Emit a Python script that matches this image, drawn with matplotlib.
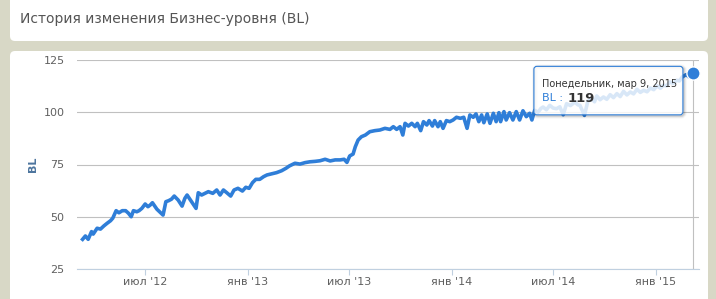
import matplotlib
matplotlib.use('Agg')
import matplotlib.pyplot as plt
import matplotlib.dates as mdates
from matplotlib.patches import FancyBboxPatch
from datetime import datetime

# ---------------- data ----------------
dates = [
    '2012-03-11', '2012-03-16', '2012-03-21', '2012-03-27', '2012-03-30', '2012-04-06', '2012-04-12',
    '2012-04-18', '2012-04-24', '2012-04-30', '2012-05-04', '2012-05-10', '2012-05-15', '2012-05-21',
    '2012-05-27', '2012-06-01', '2012-06-06', '2012-06-10', '2012-06-16', '2012-06-20', '2012-06-25',
    '2012-07-01', '2012-07-06', '2012-07-10', '2012-07-14', '2012-07-22', '2012-08-02', '2012-08-07',
    '2012-08-12', '2012-08-17', '2012-08-22', '2012-08-29', '2012-09-05', '2012-09-10', '2012-09-14',
    '2012-09-22', '2012-09-30', '2012-10-04', '2012-10-10', '2012-10-16', '2012-10-22', '2012-10-30',
    '2012-11-06', '2012-11-12', '2012-11-18', '2012-11-24', '2012-12-01', '2012-12-07', '2012-12-14',
    '2012-12-22', '2012-12-28', '2013-01-03', '2013-01-09', '2013-01-15', '2013-01-22', '2013-01-29',
    '2013-02-04', '2013-02-12', '2013-02-21', '2013-03-02', '2013-03-10', '2013-03-16', '2013-03-26',
    '2013-04-04', '2013-04-13', '2013-04-22', '2013-05-01', '2013-05-10', '2013-05-19', '2013-05-28',
    '2013-06-06', '2013-06-15', '2013-06-22', '2013-06-27', '2013-07-02', '2013-07-08', '2013-07-12',
    '2013-07-17', '2013-07-23', '2013-07-30', '2013-08-07', '2013-08-16', '2013-08-25', '2013-09-03',
    '2013-09-12', '2013-09-18', '2013-09-24', '2013-09-30', '2013-10-05', '2013-10-09', '2013-10-15',
    '2013-10-21', '2013-10-27', '2013-10-31', '2013-11-06', '2013-11-11', '2013-11-17', '2013-11-21',
    '2013-11-27', '2013-12-01', '2013-12-07', '2013-12-11', '2013-12-16', '2013-12-22', '2013-12-28',
    '2014-01-03', '2014-01-09', '2014-01-16', '2014-01-22', '2014-01-28', '2014-02-02', '2014-02-08',
    '2014-02-13', '2014-02-18', '2014-02-23', '2014-02-27', '2014-03-05', '2014-03-10', '2014-03-16',
    '2014-03-21', '2014-03-26', '2014-03-29', '2014-04-04', '2014-04-08', '2014-04-14', '2014-04-20',
    '2014-04-26', '2014-05-02', '2014-05-08', '2014-05-14', '2014-05-20', '2014-05-24', '2014-05-29',
    '2014-06-04', '2014-06-09', '2014-06-13', '2014-06-19', '2014-06-25', '2014-07-01', '2014-07-07',
    '2014-07-13', '2014-07-19', '2014-07-25', '2014-08-01', '2014-08-09', '2014-08-14', '2014-08-18',
    '2014-08-26', '2014-09-01', '2014-09-08', '2014-09-13', '2014-09-17', '2014-09-23', '2014-09-29',
    '2014-10-05', '2014-10-11', '2014-10-17', '2014-10-23', '2014-10-29', '2014-11-04', '2014-11-10',
    '2014-11-16', '2014-11-22', '2014-11-28', '2014-12-04', '2014-12-10', '2014-12-16', '2014-12-22',
    '2014-12-28', '2015-01-03', '2015-01-09', '2015-01-14', '2015-01-20', '2015-01-26', '2015-02-01',
    '2015-02-07', '2015-02-12', '2015-02-17', '2015-02-24', '2015-03-01', '2015-03-05', '2015-03-09',
]
bl_values = [
    39.2, 40.8, 39.2, 42.9, 41.7, 44.5, 44.1,
    45.6, 46.9, 48.1, 49.3, 52.9, 51.9, 52.9,
    52.9, 51.7, 50.0, 52.9, 52.4, 52.9, 54.0,
    56.1, 54.8, 55.6, 56.7, 53.6, 50.8, 57.2,
    57.7, 58.4, 59.9, 58.0, 55.1, 58.8, 60.4,
    57.2, 54.0, 61.5, 60.4, 61.2, 62.0, 61.2,
    62.8, 60.4, 62.8, 61.5, 59.9, 62.8, 63.6,
    62.3, 64.1, 63.6, 66.3, 67.9, 67.9, 69.2,
    70.0, 70.5, 71.1, 72.0, 73.2, 74.3, 75.6,
    75.2, 75.9, 76.3, 76.5, 76.8, 77.5, 76.7,
    77.2, 77.2, 77.5, 76.0, 79.1, 80.0, 83.5,
    86.7, 88.3, 89.1, 90.7, 91.2, 91.5, 92.3,
    91.8, 93.1, 91.8, 93.1, 89.1, 94.7, 93.4,
    94.7, 93.1, 94.7, 91.2, 95.5, 93.9, 96.0,
    93.4, 96.0, 93.1, 95.5, 92.3, 96.0, 95.5,
    96.3, 97.6, 97.1, 97.6, 92.3, 98.7, 97.6,
    99.2, 95.5, 98.7, 95.0, 99.2, 94.7, 99.5,
    95.5, 99.8, 95.5, 100.3, 96.3, 99.8, 96.3,
    100.3, 96.3, 100.7, 97.9, 99.5, 96.3, 100.9,
    100.0, 101.8, 102.5, 101.2, 103.3, 102.0, 101.7,
    102.6, 98.8, 104.1, 103.2, 104.9, 103.6, 103.3,
    98.5, 105.2, 106.5, 105.0, 107.8, 106.0, 107.3,
    106.2, 108.4, 107.0, 108.9, 107.5, 110.0, 108.3,
    109.7, 108.8, 111.0, 109.5, 110.5, 109.8, 111.6,
    110.8, 112.6, 111.5, 112.9, 112.6, 114.5, 113.8,
    115.3, 115.0, 116.9, 118.0, 116.9, 117.6, 119.0,
]
y_ticks = [25, 50, 75, 100, 125]
x_tick_dates = ['2012-07-01', '2013-01-01', '2013-07-01', '2014-01-01', '2014-07-01', '2015-01-01']
x_tick_labels = ["июл '12", "янв '13", "июл '13", "янв '14", "июл '14", "янв '15"]
title_text = 'История изменения Бизнес-уровня (BL)'
series_name = 'BL'
tooltip_date = 'Понедельник, мар 9, 2015'

# ---------------- figure ----------------
W, H = 716, 299
plt.rcParams['font.family'] = ['DejaVu Sans']
fig = plt.figure(figsize=(W / 100, H / 100), dpi=100)
fig.patch.set_facecolor('#d8d8c6')

bg = fig.add_axes([0, 0, 1, 1], zorder=0)
bg.set_xlim(0, W)
bg.set_ylim(H, 0)
bg.axis('off')
bg.add_patch(FancyBboxPatch((10, -20), 698, 61, boxstyle='round,pad=0,rounding_size=5',
                            fc='white', ec='none'))
bg.add_patch(FancyBboxPatch((10, 51), 698, 280, boxstyle='round,pad=0,rounding_size=5',
                            fc='white', ec='none'))
bg.text(20, 19, title_text, fontsize=10, color='#555555', va='center', ha='left')

line_color = '#2f7ed8'
ax = fig.add_axes([77 / W, 1 - 269 / H, (699 - 77) / W, (269 - 60) / H], zorder=1)
ax.patch.set_alpha(0)
xd = [datetime.strptime(d, '%Y-%m-%d') for d in dates]
ax.plot(xd, bl_values, color=line_color, lw=2.6, solid_joinstyle='round', zorder=3)
ax.set_ylim(25, 125)
ax.set_xlim(datetime(2012, 3, 1), datetime(2015, 3, 19))
ax.set_yticks(y_ticks)
ax.yaxis.grid(True, color='#c0c0c0', lw=0.8)
ax.set_axisbelow(True)
for s in ['left', 'right', 'top']:
    ax.spines[s].set_visible(False)
ax.spines['bottom'].set_color('#c0d0e0')
ax.spines['bottom'].set_linewidth(0.8)
ax.set_xticks([datetime.strptime(d, '%Y-%m-%d') for d in x_tick_dates])
ax.set_xticklabels(x_tick_labels)
ax.tick_params(axis='y', length=0, pad=9, labelsize=8, labelcolor='#606060')
ax.tick_params(axis='x', length=4, width=0.8, color='#c0d0e0', direction='out', pad=2,
               labelsize=8, labelcolor='#606060')
ax.set_ylabel(series_name, fontweight='bold', color='#4d759e', fontsize=8)
ax.yaxis.set_label_coords(-0.062, 0.5)

# crosshair + hover marker
ax.axvline(xd[-1], color='#c0c0c0', lw=0.8, zorder=2)
ax.plot([xd[-1]], [bl_values[-1]], 'o', ms=9.5, mfc=line_color, mec='white', mew=1,
        zorder=6, clip_on=False)

# tooltip overlay
ov = fig.add_axes([0, 0, 1, 1], zorder=2)
ov.set_xlim(0, W)
ov.set_ylim(H, 0)
ov.axis('off')
ov.patch.set_alpha(0)
px, py = ax.transData.transform((mdates.date2num(xd[-1]), bl_values[-1]))
py = H - py
left, top = px - 159.5, py - 6.2
bw, bh = 149, 48.5
for lw_, a in [(4, 0.04), (2.5, 0.07), (1.2, 0.1)]:
    ov.add_patch(FancyBboxPatch((left + 1, top + 1), bw, bh, boxstyle='round,pad=0,rounding_size=3',
                                fc='none', ec=(0, 0, 0, a), lw=lw_))
ov.add_patch(FancyBboxPatch((left, top), bw, bh, boxstyle='round,pad=0,rounding_size=3',
                            fc=(1, 1, 1, 0.82), ec=line_color, lw=0.8))
ov.text(left + 8.5, top + 17.5, tooltip_date, fontsize=7, color='#333333', va='center', ha='left')
t1 = ov.text(left + 8.5, top + 32, series_name + ' :', fontsize=8, color=line_color,
             va='center', ha='left')
ov.annotate(f'{bl_values[-1]:g}', xy=(1, 0.5), xycoords=t1, xytext=(3, 0),
            textcoords='offset points', fontsize=9.5, fontweight='bold', color='#333333',
            va='center', ha='left')

fig.savefig('out.png', dpi=100)
